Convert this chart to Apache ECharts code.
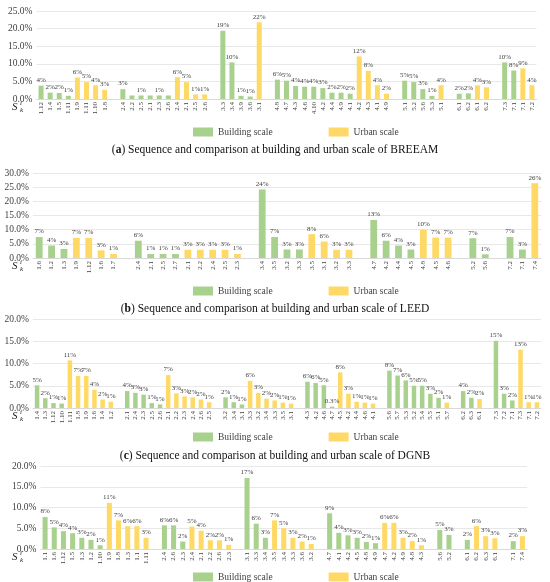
<!DOCTYPE html>
<html><head><meta charset="utf-8">
<script src="https://cdn.jsdelivr.net/npm/echarts@6/dist/echarts.min.js"></script>
<style>html,body{margin:0;padding:0;background:#fff}#c{width:550px;height:582px}</style>
</head><body><div id="c"></div>
<script>
// ---------- DATA ----------
// scale codes: B = Building scale, U = Urban scale, space = gap
const catsA = ['1.12','1.4','1.5','1.11','1.9','1.11','1.10','1.8','',
  '2.4','2.2','2.5','2.1','2.3','2.6','2.4','2.1','2.5','2.6','',
  '3.3','3.4','3.9','3.6','3.1','',
  '4.8','4.7','4.3','4.6','4.10','4.2','4.4','4.9','4.1','4.2','4.3','4.1','4.9','',
  '5.1','5.2','5.6','5.3','5.1','',
  '6.1','6.2','6.1','6.2','',
  '7.3','7.1','7.1','7.2'];
const valsA = [3.8,1.8,1.7,0.9, 6.1,4.8,3.9,2.6, null,
  2.8,1.0,1.0,1.0,1.0,1.0, 6.2,4.8,1.3,1.3, null,
  19.4,10.4,0.9,0.7, 21.8, null,
  5.5,5.2,3.7,3.5,3.5,3.1,1.8,1.8,1.5, 12.1,8.0,3.9,1.5, null,
  5.2,4.8,2.8,0.9, 3.9, null,
  1.5,1.6, 3.9,3.3, null,
  10.4,8.1, 8.7,3.9];
const scaleA = 'BBBBUUUU BBBBBBUUUU BBBBU BBBBBBBBBUUUU BBBBU BBUU BBUU';
const hideA = [10,12,14];

const catsB = ['1.6','1.2','1.3','1.9','1.12','1.6','1.7','',
  '2.4','2.1','2.5','2.7','2.1','2.2','2.4','2.5','2.3','',
  '3.4','3.5','3.2','3.3','3.5','3.1','3.2','3.3','',
  '4.7','4.2','4.4','4.5','4.8','4.5','4.6','',
  '5.2','5.6','',
  '7.2','7.1','7.4'];
const valsB = [7.4,4.4,3.2, 7.1,7.1,2.7,1.4, null,
  6.1,1.4,1.4,1.4, 2.9,2.9,2.9,2.9,1.4, null,
  24.2,7.4,3.0,3.0, 8.4,5.8,2.9,2.9, null,
  13.4,6.1,4.4,3.0, 10.0,7.2,7.2, null,
  7.0,1.3, null,
  7.4,3.0, 26.4];
const scaleB = 'BBBUUUU BBBBUUUUU BBBBUUUU BBBBUUU BB BBU';

const catsC = ['1.4','1.3','1.12','1.10','1.11','1.8','1.9','1.6','1.4','1.2','',
  '2.1','2.4','2.3','2.5','2.6','2.1','2.2','2.3','2.4','2.6','2.5','',
  '3.2','3.4','3.1','3.3','3.2','3.4','3.3','3.5','3.1','',
  '4.3','4.2','4.6','4.7','4.5','4.2','4.4','4.6','4.1','',
  '5.6','5.7','5.3','5.2','5.4','5.5','5.1','5.7','',
  '6.2','6.3','6.1','',
  '7.3','7.2','7.1','7.3','7.1','7.2'];
const valsC = [5.1,2.2,1.1,1.0, 10.7,7.2,7.2,4.1,1.9,1.4, null,
  3.8,3.4,3.0,1.1,0.8, 7.4,3.3,2.6,2.4,1.9,1.3, null,
  2.4,1.3,0.8, 6.1,3.4,2.1,1.7,1.2,1.0, null,
  5.9,5.6,5.1,0.3, 8.0,3.2,1.4,1.2,1.0, null,
  8.4,7.3,6.2,5.0,5.0,3.2,2.3, 1.2, null,
  3.8,2.3, 2.0, null,
  15.1,3.2,1.7, 13.1,1.3,1.3];
const scaleC = 'BBBBUUUUUU BBBBBUUUUUU BBBUUUUUU BBBBUUUUU BBBBBBBU BBU BBBUUU';

const catsD = ['1.1','1.6','1.12','1.5','1.3','1.2','1.10','1.9','1.8','1.3','1.1','1.11','',
  '2.4','2.6','2.3','2.4','2.1','2.2','2.6','2.3','',
  '3.1','3.3','3.4','3.5','3.4','3.3','3.6','3.2','',
  '4.7','4.1','4.2','4.5','4.8','4.9','4.7','4.2','4.9','4.8','4.3','',
  '5.6','5.2','',
  '6.1','6.2','6.3','6.1','',
  '7.1','7.4'];
const valsD = [7.7,5.2,4.3,3.8,2.7,2.2,0.9, 11.1,6.9,5.5,5.5,2.7, null,
  5.7,5.7,1.8, 5.4,4.4,2.1,2.1,1.0, null,
  17.1,6.1,2.7, 6.9,5.0,2.7,1.8,1.2, null,
  8.6,3.9,3.3,2.7,1.7,1.4, 6.3,6.3,2.7,1.9,0.9, null,
  4.6,3.4, null,
  2.2, 5.5,3.1,2.6, null,
  1.9, 3.1];
const scaleD = 'BBBBBBBUUUUU BBBUUUUU BBBUUUUU BBBBBBUUUUU BB BUUU BU';

const yMax = [25, 30, 20, 20];
const yStep = 5;
const seriesNames = ['Building scale', 'Urban scale'];
const titleTexts = [
  ['a', 'Sequence and comparison at building and urban scale of BREEAM'],
  ['b', 'Sequence and comparison at building and urban scale of LEED'],
  ['c', 'Sequence and comparison at building and urban scale of DGNB']
];

// ---------- LAYOUT ----------
const FONT = '"Liberation Serif", "DejaVu Serif", serif';
const GREEN = '#a9d18e', YELLOW = '#ffd966', TXT = '#404040';
const panels = [
  {cats: catsA, vals: valsA, scale: scaleA, hide: hideA, left: 36.5, right: 550-536.5, top: 11, height: 88, legendTop: 122, titleTop: 139},
  {cats: catsB, vals: valsB, scale: scaleB, hide: [], left: 33, right: 550-541, top: 173, height: 85, legendTop: 281, titleTop: 298},
  {cats: catsC, vals: valsC, scale: scaleC, hide: [], left: 33, right: 550-541, top: 319, height: 89, legendTop: 427, titleTop: 445},
  {cats: catsD, vals: valsD, scale: scaleD, hide: [], left: 40.5, right: 550-527, top: 466, height: 83, legendTop: 567, titleTop: null}
];

const grid = [], xAxis = [], yAxis = [], series = [], legend = [], title = [], graphic = [];
const fmt = p => { const v = p.value; return (v < 0.5 ? v.toFixed(1) : Math.round(v)) + '%'; };

panels.forEach((P, k) => {
  grid.push({left: P.left, right: P.right, top: P.top, height: P.height, containLabel: false});
  xAxis.push({
    type: 'category', gridIndex: k, data: P.cats,
    axisTick: {show: false},
    axisLine: {lineStyle: {color: '#d9d9d9'}},
    axisLabel: {interval: 0, rotate: 90, fontSize: 7, color: TXT, fontFamily: FONT, margin: 3}
  });
  yAxis.push({
    type: 'value', gridIndex: k, min: 0, max: yMax[k], interval: yStep,
    axisLine: {show: false}, axisTick: {show: false},
    axisLabel: {formatter: v => v.toFixed(1) + '%', fontSize: 9.5, color: TXT, fontFamily: FONT, margin: 4},
    splitLine: {lineStyle: {color: '#e8e8e8'}}
  });
  ['B', 'U'].forEach((code, j) => {
    series.push({
      name: seriesNames[j], type: 'bar', xAxisIndex: k, yAxisIndex: k,
      barWidth: '55%', barGap: '-100%',
      itemStyle: {color: j === 0 ? GREEN : YELLOW},
      label: {show: true, position: 'top', distance: 2, formatter: fmt, fontSize: 7, color: TXT, fontFamily: FONT},
      data: P.vals.map((v, i) => {
        if (P.scale[i] !== code || v === null) return '-';
        return P.hide.includes(i) ? {value: v, label: {show: false}} : v;
      })
    });
  });
  legend.push({
    data: seriesNames, top: P.legendTop, left: 188, itemWidth: 20, itemHeight: 9, itemGap: 56,
    icon: 'rect', textStyle: {fontSize: 9.5, color: TXT, fontFamily: FONT}, selectedMode: false
  });
  if (P.titleTop !== null) {
    const t = titleTexts[k];
    title.push({
      text: '({b|' + t[0] + '}) ' + t[1], left: 'center', top: P.titleTop,
      textStyle: {fontSize: 11.5, fontWeight: 'normal', color: '#111', fontFamily: FONT,
        rich: {b: {fontSize: 11.5, fontWeight: 'bold', color: '#111', fontFamily: FONT}}}
    });
  }
  const y0 = P.top + P.height;
  graphic.push(
    {type: 'text', left: 12, top: y0 + 3, style: {text: 'S', font: 'italic 11px ' + FONT, fill: '#222'}},
    {type: 'text', left: 20, top: y0 + 1, style: {text: 'i', font: 'italic 7px ' + FONT, fill: '#222'}},
    {type: 'text', left: 20, top: y0 + 8, style: {text: 'k', font: 'italic 7px ' + FONT, fill: '#222'}}
  );
});

const chart = echarts.init(document.getElementById('c'), null, {renderer: 'canvas'});
chart.setOption({animation: false, grid, xAxis, yAxis, series, legend, title, graphic});
</script></body></html>
